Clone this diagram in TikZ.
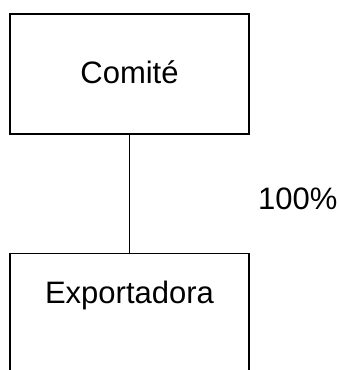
\documentclass[tikz,border=0pt]{standalone}
\usepackage{fontspec}
\setmainfont{Liberation Sans}
\begin{document}
\begin{tikzpicture}[x=1pt,y=1pt,
  boxstyle/.style={draw=black, line width=1.2pt, minimum width=239pt, inner sep=0pt, fill=white},
  lbl/.style={font=\fontsize{31}{36}\selectfont, anchor=base, inner sep=0pt},
  conn/.style={line width=1.2pt}]
\useasboundingbox (0,0) rectangle (339,-370);
\clip (0,0) rectangle (339,-370);
\node[boxstyle, minimum height=120pt] (comite) at (129.5,-74) {};
\node[boxstyle, minimum height=150pt] (export) at (129.5,-328.5) {};
\node[lbl] (tcomite) at (129.5,-83) {Comité};
\node[lbl] (texport) at (129.5,-303) {Exportadora};
\draw[conn] (comite.south) -- (export.north);
\node[lbl, anchor=base west] (pct) at (258,-209) {100\%};
\end{tikzpicture}
\end{document}
